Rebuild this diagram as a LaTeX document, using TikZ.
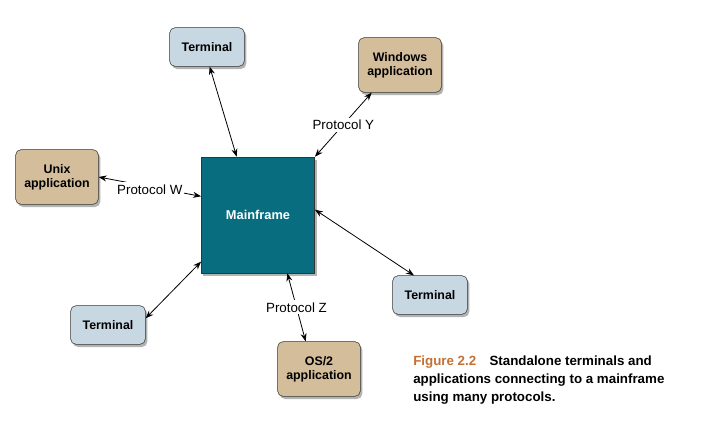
\documentclass[tikz,border=0pt]{standalone}
\usepackage{fontspec}
\setmainfont{Liberation Sans}
\usetikzlibrary{arrows.meta,shadows}
\definecolor{termblue}{RGB}{200,216,226}
\definecolor{apptan}{RGB}{212,189,155}
\definecolor{mainteal}{RGB}{8,110,127}
\definecolor{figorange}{RGB}{196,112,52}
\begin{document}
\begin{tikzpicture}[x=0.75pt,y=-0.75pt]
\begin{scope}

\tikzstyle{termnode} = [minimum width=56pt,minimum height=29pt,draw=black!80,fill=termblue,rounded corners=4pt,drop shadow={shadow xshift=1.5pt,shadow yshift=-2pt,opacity=0.6},font=\fontsize{9.3}{10.5}\selectfont\bfseries];
\tikzstyle{appnode} = [minimum width=62pt,minimum height=41pt,draw=black!80,fill=apptan,rounded corners=4pt,align=center,drop shadow={shadow xshift=1.5pt,shadow yshift=-2pt,opacity=0.6},font=\fontsize{9.3}{10.5}\selectfont\bfseries];
\tikzstyle{mainnode} = [minimum width=85pt,minimum height=87pt,draw=black!80,fill=mainteal,text=white,drop shadow={shadow xshift=1.5pt,shadow yshift=-2pt,opacity=0.6},font=\fontsize{9.6}{11}\selectfont\bfseries];
\tikzstyle{protolabel} = [fill=white,inner sep=1.5pt,font=\fontsize{10}{11}\selectfont];
\tikzstyle{link} = [{Stealth[length=6pt,width=4.5pt]}-{Stealth[length=6pt,width=4.5pt]},line width=0.6pt];

\useasboundingbox (0,0) rectangle (726,436);

\node [mainnode] (main) at (258,215) {Mainframe};

\node [termnode] (t1) at (207,47) {Terminal};
\node [appnode] (win) at (400,65) {Windows\\application};
\node [appnode] (unix) at (57,177) {Unix\\application};
\node [termnode] (t2) at (108,325) {Terminal};
\node [termnode] (t3) at (430,295) {Terminal};
\node [appnode] (os2) at (319,369) {OS/2\\application};

\draw [link] ([xshift=2pt]t1.south) -- ([xshift=-16pt]main.north);
\draw [link] ([xshift=10pt]win.south west) -- (main.north east) node [protolabel,midway] (py) {Protocol Y};
\draw [link] (unix.east) -- ([yshift=14pt]main.west) node [protolabel,midway,yshift=-2pt] (pw) {Protocol W};
\draw [link] ([yshift=5pt]t2.east) -- ([yshift=-35pt]main.west);
\draw [link] ([yshift=4pt]main.east) -- ([xshift=-12pt]t3.north);
\draw [link] ([xshift=22pt]main.south) -- ([xshift=-10pt]os2.north) node [protolabel,midway] (pz) {Protocol Z};

\node [anchor=north west,align=left,inner sep=0pt,font=\fontsize{10}{13.5}\selectfont\bfseries] (cap) at (413,356) {{\color{figorange}Figure 2.2}\quad Standalone terminals and\\applications connecting to a mainframe\\using many protocols.};

\end{scope}
\end{tikzpicture}
\end{document}
